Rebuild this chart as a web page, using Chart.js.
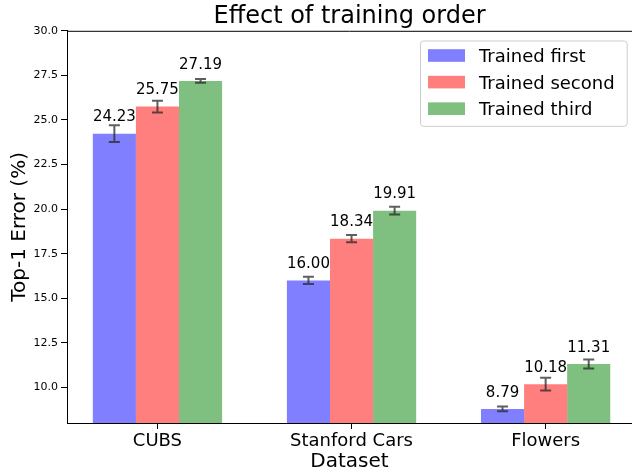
<!DOCTYPE html>
<html>
<head>
<meta charset="utf-8">
<script src="https://cdn.jsdelivr.net/npm/chart.js@4/dist/chart.umd.min.js"></script>
<style>
  html, body { margin: 0; padding: 0; background: #fff; }
  canvas { display: block; }
</style>
</head>
<body>
<canvas id="chart" width="632" height="471"></canvas>
<script>
// data
const categories = ['CUBS', 'Stanford Cars', 'Flowers'];
const seriesLabels = ['Trained first', 'Trained second', 'Trained third'];
const trainedFirst = [24.23, 16.00, 8.79];
const trainedSecond = [25.75, 18.34, 10.18];
const trainedThird = [27.19, 19.91, 11.31];
const errFirst = [0.47, 0.20, 0.13];
const errSecond = [0.33, 0.20, 0.36];
const errThird = [0.11, 0.22, 0.25];
const yTicks = [10.0, 12.5, 15.0, 17.5, 20.0, 22.5, 25.0, 27.5, 30.0];

const colours = ['rgba(0,0,255,0.5)', 'rgba(255,0,0,0.5)', 'rgba(0,128,0,0.5)'];
const values = [trainedFirst, trainedSecond, trainedThird];
const errors = [errFirst, errSecond, errThird];

Chart.defaults.font.family = "'DejaVu Sans', sans-serif";
Chart.defaults.color = '#000';

const datasets = values.map((vals, i) => ({
    label: seriesLabels[i],
    data: vals.map((v, j) => ({x: j, y: v})),
    backgroundColor: colours[i],
    borderWidth: 0,
    categoryPercentage: 0.666,
    barPercentage: 1.0
}));

// error bars, value labels, top spine and the legend box
const extras = {
    id: 'extras',
    afterDatasetsDraw(chart) {
        const ctx = chart.ctx;
        const y = chart.scales.y;
        const area = chart.chartArea;
        ctx.save();
        datasets.forEach((ds, i) => {
            const meta = chart.getDatasetMeta(i);
            meta.data.forEach((bar, j) => {
                const v = values[i][j];
                const e = errors[i][j];
                const top = y.getPixelForValue(v + e);
                const bot = y.getPixelForValue(v - e);
                ctx.strokeStyle = 'rgba(40,40,40,0.75)';
                ctx.lineWidth = 2;
                ctx.beginPath();
                ctx.moveTo(bar.x, top);
                ctx.lineTo(bar.x, bot);
                ctx.moveTo(bar.x - 5.5, top);
                ctx.lineTo(bar.x + 5.5, top);
                ctx.moveTo(bar.x - 5.5, bot);
                ctx.lineTo(bar.x + 5.5, bot);
                ctx.stroke();

                ctx.fillStyle = '#000';
                ctx.font = "15px 'DejaVu Sans'";
                ctx.textAlign = 'center';
                ctx.textBaseline = 'alphabetic';
                ctx.fillText(v.toFixed(2), bar.x, y.getPixelForValue(v) - 12.3);
            });
        });

        // top spine
        ctx.strokeStyle = '#000';
        ctx.lineWidth = 1;
        ctx.beginPath();
        ctx.moveTo(area.left, area.top + 0.5);
        ctx.lineTo(area.right, area.top + 0.5);
        ctx.stroke();

        // legend
        const bw = 206.7, bh = 85.3;
        const bx = area.right - 5.3 - bw;
        const by = area.top + 9.7;
        ctx.fillStyle = 'rgba(255,255,255,0.8)';
        ctx.strokeStyle = '#cccccc';
        ctx.lineWidth = 1;
        ctx.beginPath();
        ctx.roundRect(bx + 0.5, by + 0.5, bw, bh, 3);
        ctx.fill();
        ctx.stroke();
        ctx.font = "18px 'DejaVu Sans'";
        ctx.textAlign = 'left';
        ctx.textBaseline = 'alphabetic';
        seriesLabels.forEach((lab, i) => {
            const cy = by + 15 + i * 26.6;
            ctx.fillStyle = colours[i];
            ctx.fillRect(bx + 8, cy - 6.3, 37, 12.6);
            ctx.fillStyle = '#000';
            ctx.fillText(lab, bx + 59, cy + 6.6);
        });
        ctx.restore();
    }
};

new Chart(document.getElementById('chart'), {
    type: 'bar',
    data: { datasets: datasets },
    options: {
        responsive: false,
        animation: false,
        devicePixelRatio: 1,
        layout: { padding: 0 },
        plugins: {
            legend: { display: false },
            tooltip: { enabled: false },
            title: {
                display: true,
                text: 'Effect of training order',
                fullSize: false,
                font: { size: 24, weight: 'normal' },
                color: '#000',
                padding: { top: 2, bottom: 0 }
            }
        },
        scales: {
            x: {
                type: 'linear',
                min: -0.466,
                max: 2.445,
                offset: false,
                afterBuildTicks: (scale) => {
                    scale.ticks = categories.map((c, i) => ({value: i}));
                },
                afterFit: (scale) => { scale.height = 48; },
                ticks: {
                    font: { size: 18 },
                    color: '#000',
                    padding: 2,
                    maxRotation: 0,
                    autoSkip: false,
                    callback: (v) => categories[v]
                },
                grid: { drawOnChartArea: false, offset: false, color: '#000', tickLength: 6 },
                border: { display: true, color: '#000', width: 1 },
                title: {
                    display: true,
                    text: 'Dataset',
                    font: { size: 20, lineHeight: 0.9 },
                    color: '#000',
                    padding: 0
                }
            },
            y: {
                min: 8,
                max: 30,
                afterBuildTicks: (scale) => {
                    scale.ticks = yTicks.map(v => ({value: v}));
                },
                afterFit: (scale) => { scale.width = 67; },
                ticks: {
                    font: { size: 11 },
                    color: '#000',
                    padding: 3,
                    callback: (v) => v.toFixed(1)
                },
                grid: { drawOnChartArea: false, color: '#000', tickLength: 6 },
                border: { display: true, color: '#000', width: 1 },
                title: {
                    display: true,
                    text: 'Top-1 Error (%)',
                    font: { size: 20, lineHeight: 1.2 },
                    color: '#000',
                    padding: { top: 7.5, bottom: 0 }
                }
            }
        }
    },
    plugins: [extras]
});
</script>
</body>
</html>
